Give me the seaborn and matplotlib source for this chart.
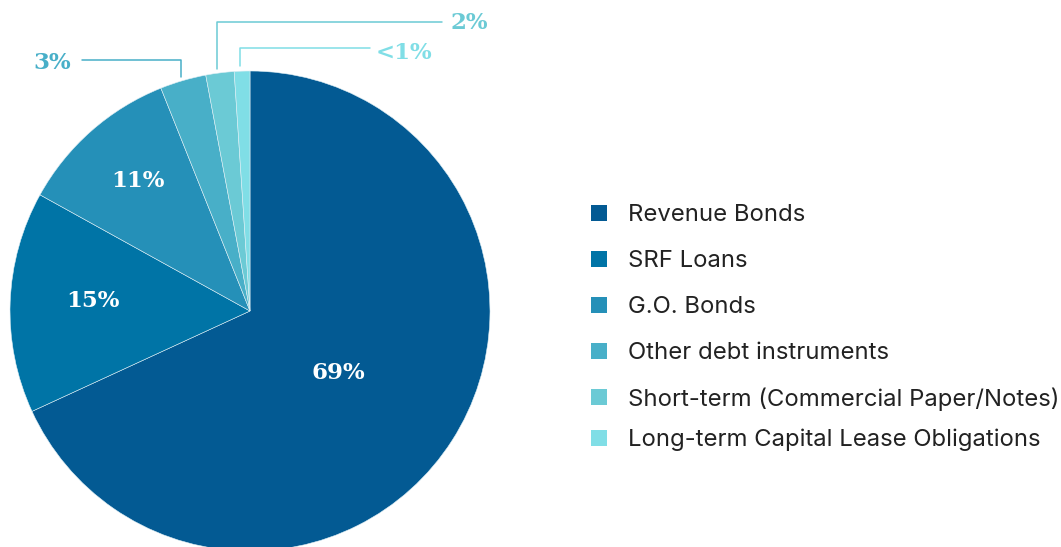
import matplotlib
matplotlib.use("Agg")
import matplotlib.pyplot as plt
import numpy as np
import seaborn as sns
from matplotlib.patches import Rectangle

categories = [
    "Revenue Bonds",
    "SRF Loans",
    "G.O. Bonds",
    "Other debt instruments",
    "Short-term (Commercial Paper/Notes)",
    "Long-term Capital Lease Obligations",
]
shares = [68.1, 14.9, 10.9, 3.1, 1.9, 1.05]
share_labels = ["69%", "15%", "11%", "3%", "2%", "<1%"]
colors = ["#035a93", "#0074a6", "#2590b8", "#48afc8", "#6bcad5", "#80dee6"]

sns.set_theme(style="white")
plt.rcParams["font.family"] = ["Inter", "DejaVu Sans"]

W, H = 1061, 547
fig = plt.figure(figsize=(W / 100, H / 100), dpi=100)

# pie centre (250, 311) px, radius 240 px
cx, cy, r = 250, 311, 240
ax = fig.add_axes([(cx - r) / W, (H - cy - r) / H, 2 * r / W, 2 * r / H])
wedges, _ = ax.pie(
    shares,
    colors=colors,
    startangle=90,
    counterclock=False,
    radius=1,
    wedgeprops=dict(linewidth=0.4, edgecolor="#dfeff5"),
)
ax.set_xlim(-1, 1)
ax.set_ylim(-1, 1)
ax.set_aspect("equal")
ax.set_axis_off()
for w in wedges:
    w.set_clip_on(False)


def px(x, y):
    return ((x - cx) / r, (cy - y) / r)


label_font = dict(family="DejaVu Serif", fontweight="bold", fontsize=16.5)

# inside labels
inside_pos = [(338, 373), (93, 301), (138, 181)]
for (x, y), text in zip(inside_pos, share_labels[:3]):
    ax.text(*px(x, y), text, color="white", ha="center", va="center", **label_font)

# leader lines for the small slices
leaders = [
    ([(181, 77), (181, 60), (82, 60)], (71, 63), "right"),
    ([(217, 69), (217, 22), (442, 22)], (451, 23), "left"),
    ([(240, 66), (240, 48), (370, 48)], (376, 53), "left"),
]
for (pts, (tx, ty), ha), text, col in zip(leaders, share_labels[3:], colors[3:]):
    xs, ys = zip(*[px(x, y) for x, y in pts])
    ax.plot(xs, ys, color=col, linewidth=1.1, clip_on=False)
    ax.text(*px(tx, ty), text, color=col, ha=ha, va="center", clip_on=False, **label_font)

# legend, placed row by row
row_y = [213, 259, 305, 351, 397, 438]
for y, name, col in zip(row_y, categories, colors):
    fig.patches.append(
        Rectangle((591 / W, 1 - (y + 8) / H), 16 / W, 16 / H,
                  transform=fig.transFigure, facecolor=col, edgecolor="none")
    )
    fig.text(628 / W, 1 - (y + 2) / H, name, fontsize=17.2, color="#222222",
             ha="left", va="center")

fig.savefig("out.png", dpi=100)
